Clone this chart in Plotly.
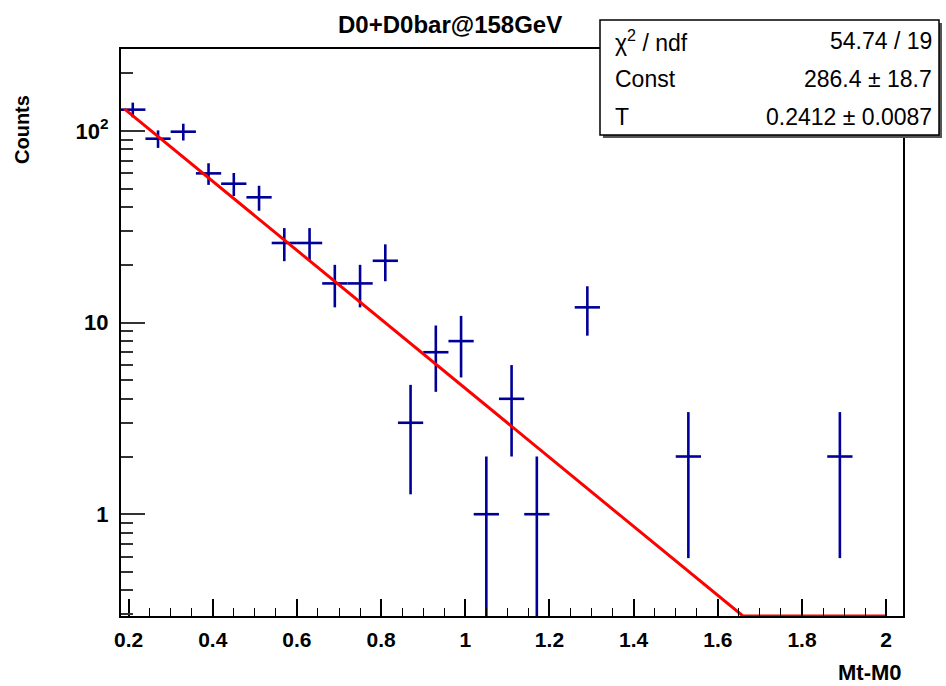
import numpy as np
import plotly.graph_objects as go

# ---- data ----
bin_centers = [0.21, 0.27, 0.33, 0.39, 0.45, 0.51, 0.57, 0.63, 0.69, 0.75,
               0.81, 0.87, 0.93, 0.99, 1.05, 1.11, 1.17, 1.29, 1.53, 1.89]
counts = [129, 91, 99, 60, 53, 45, 26, 26, 16, 16,
          21, 3, 7, 8, 1, 4, 1, 12, 2, 2]
count_errors = [11.36, 9.54, 9.95, 7.75, 7.28, 6.71, 5.10, 5.10, 4.00, 4.00,
                4.58, 1.73, 2.65, 2.83, 1.00, 2.00, 1.00, 3.46, 1.41, 1.41]
bin_half_width = [0.03] * len(bin_centers)

fit_const = 286.4
fit_T = 0.2412
fit_range = [0.19, 2.0]

stats_labels = ["\u03c7<sup>2</sup> / ndf", "Const", "T"]
stats_values = ["54.74 / 19", "286.4 \u00b1 18.7", "0.2412 \u00b1 0.0087"]

x_range = [0.182, 2.04]
x_major = [0.2, 0.4, 0.6, 0.8, 1.0, 1.2, 1.4, 1.6, 1.8, 2.0]
x_major_text = ["0.2", "0.4", "0.6", "0.8", "1", "1.2", "1.4", "1.6", "1.8", "2"]
y_range_log = [-0.531, 2.427]
y_major = [1, 10, 100]
y_major_text = ["1", "10", "10<sup>2</sup>"]
y_minor = [0.3, 0.4, 0.5, 0.6, 0.7, 0.8, 0.9, 2, 3, 4, 5, 6, 7, 8, 9,
           20, 30, 40, 50, 60, 70, 80, 90, 200]

FONT = "Liberation Sans, Arial, Helvetica, sans-serif"
BLUE = "#000099"

fig = go.Figure()

fig.add_trace(go.Scatter(
    x=bin_centers, y=counts, mode="markers",
    marker=dict(size=1, color="rgba(0,0,0,0)"),
    error_y=dict(type="data", array=count_errors, visible=True,
                 color=BLUE, thickness=2.6, width=0),
    error_x=dict(type="data", array=bin_half_width, visible=True,
                 color=BLUE, thickness=2.6, width=0),
    showlegend=False, hoverinfo="skip"))

# fit curve (drawn along the frame bottom where it falls below range, as ROOT does)
xf = np.linspace(fit_range[0], fit_range[1], 400)
yf = fit_const * np.exp(-xf / fit_T)
yf = np.maximum(yf, 10 ** y_range_log[0])
fig.add_trace(go.Scatter(x=xf, y=yf, mode="lines",
                         line=dict(color="#ff0000", width=3),
                         showlegend=False, hoverinfo="skip"))

L, R, T, B = 121, 43, 49, 70
W, H = 946, 686
pw, ph = W - L - R, H - T - B


def px(xp):
    return (xp - L) / pw


def py(yp):
    return (H - B - yp) / ph


fig.update_layout(
    width=W, height=H,
    margin=dict(l=L, r=R, t=T, b=B),
    paper_bgcolor="white", plot_bgcolor="white",
    xaxis=dict(range=x_range, showgrid=False, zeroline=False, automargin=False,
               showline=True, mirror=True, linecolor="black", linewidth=2,
               ticks="inside", ticklen=17, tickwidth=1.5, tickcolor="black",
               tickvals=x_major, ticktext=x_major_text, tickangle=0,
               ticklabelstandoff=4,
               tickfont=dict(family=FONT, size=21, color="black", weight="bold"),
               minor=dict(ticks="inside", ticklen=8, tickwidth=1.2,
                          tickcolor="black", dtick=0.05, tick0=0.2, showgrid=False)),
    yaxis=dict(type="log", range=y_range_log, showgrid=False, zeroline=False,
               automargin=False,
               showline=True, mirror=True, linecolor="black", linewidth=2,
               ticks="inside", ticklen=24, tickwidth=1.5, tickcolor="#333333",
               tickvals=y_major, ticktext=y_major_text, ticklabelstandoff=6,
               tickfont=dict(family=FONT, size=22, color="black", weight="bold"),
               minor=dict(ticks="inside", ticklen=12, tickwidth=1.5,
                          tickcolor="#333333", tickvals=y_minor, showgrid=False)),
)

ann = []
ann.append(dict(text="D0+D0bar@158GeV", x=px(450), y=py(24), xref="paper", yref="paper",
                xanchor="center", yanchor="middle", showarrow=False,
                font=dict(family=FONT, size=24, color="black", weight="bold")))
ann.append(dict(text="Counts", x=px(22), y=py(129), xref="paper", yref="paper",
                xanchor="center", yanchor="middle", showarrow=False, textangle=-90,
                font=dict(family=FONT, size=20, color="black", weight="bold")))
ann.append(dict(text="Mt-M0", x=px(904), y=py(672), xref="paper", yref="paper",
                xanchor="right", yanchor="middle", showarrow=False,
                font=dict(family=FONT, size=22, color="black", weight="bold")))

# stats box
bx0, bx1, by0, by1 = 600, 939, 20, 135
shapes = [
    dict(type="rect", xref="paper", yref="paper", layer="above",
         x0=px(bx0 + 3), x1=px(bx1 + 3), y0=py(by1 + 3), y1=py(by0 + 3),
         fillcolor="#555555", line=dict(width=0)),
    dict(type="rect", xref="paper", yref="paper", layer="above",
         x0=px(bx0), x1=px(bx1), y0=py(by1), y1=py(by0),
         fillcolor="white", line=dict(color="black", width=1.5)),
]
rows_y = [41, 79, 117]
for lab, val, ry in zip(stats_labels, stats_values, rows_y):
    ann.append(dict(text=lab, x=px(613), y=py(ry), xref="paper", yref="paper",
                    xanchor="left", yanchor="middle", showarrow=False,
                    font=dict(family=FONT, size=23, color="black")))
    ann.append(dict(text=val, x=px(934), y=py(ry), xref="paper", yref="paper",
                    xanchor="right", yanchor="middle", showarrow=False,
                    font=dict(family=FONT, size=23, color="black")))

fig.update_layout(annotations=ann, shapes=shapes)

fig.write_html("out.html")
